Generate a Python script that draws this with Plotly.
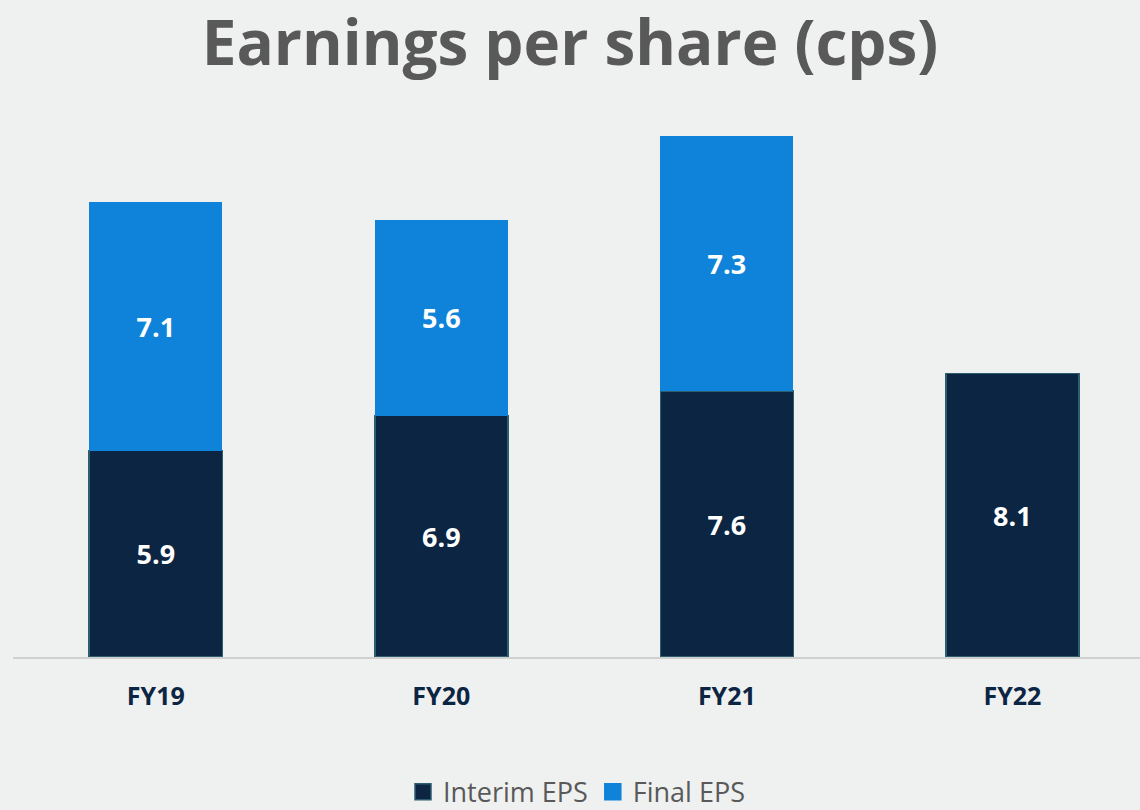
import plotly.graph_objects as go

categories = ["FY19", "FY20", "FY21", "FY22"]
interim_eps = [5.9, 6.9, 7.6, 8.1]
final_eps = [7.1, 5.6, 7.3, None]
series_names = ["Interim EPS", "Final EPS"]

BG = "#EFF0F0"
NAVY = "#0B2542"
BLUE = "#0E83D9"
EDGE = "#2E5E6E"

label_font = dict(family="Open Sans", size=27, color="white", weight="bold")

fig = go.Figure()
fig.add_trace(go.Bar(
    x=categories, y=interim_eps, name=series_names[0], showlegend=False,
    marker=dict(color=NAVY, line=dict(color=EDGE, width=1.5)),
    text=[f"{v:.1f}" for v in interim_eps], textposition="inside",
    insidetextanchor="middle", textfont=label_font, width=0.466,
    hoverinfo="skip",
))
fig.add_trace(go.Bar(
    x=categories, y=final_eps, name=series_names[1], showlegend=False,
    marker=dict(color=BLUE, line=dict(color=BLUE, width=0)),
    text=[f"{v:.1f}" if v is not None else "" for v in final_eps], textposition="inside",
    insidetextanchor="middle", textfont=label_font, width=0.466,
    hoverinfo="skip",
))
# legend entries with larger square swatches
for name, col, edge in [(series_names[0], NAVY, EDGE), (series_names[1], BLUE, BLUE)]:
    fig.add_trace(go.Scatter(
        x=[None], y=[None], mode="markers", name=name,
        marker=dict(symbol="square", size=19, color=col, line=dict(color=edge, width=1.5)),
    ))

fig.update_layout(
    barmode="stack",
    width=1140, height=810,
    paper_bgcolor=BG, plot_bgcolor=BG,
    margin=dict(l=13, r=0, t=110, b=153, autoexpand=False),
    title=dict(text="<b>Earnings per share (cps)</b>", x=0.5, xanchor="center",
               y=0.947, yanchor="middle",
               font=dict(family="Open Sans", size=62, color="#595959")),
    xaxis=dict(range=[-0.5, 3.447], showgrid=False, showline=True, linecolor="#D0D0D0",
               linewidth=1.5, ticks="", tickfont=dict(family="Open Sans", size=25, color=NAVY, weight="bold"),
               ticklabelstandoff=16, fixedrange=True),
    yaxis=dict(range=[0, 15.63], visible=False, showgrid=False, fixedrange=True),
    legend=dict(orientation="h", x=0.5, xanchor="center", y=-0.247, yanchor="middle",
                font=dict(family="Open Sans", size=27, color="#595959"),
                itemwidth=30, traceorder="normal", bgcolor="rgba(0,0,0,0)"),
    showlegend=True,
)

fig.write_html("out.html", config={"displayModeBar": False},
               post_script="document.body.style.margin='0';")
